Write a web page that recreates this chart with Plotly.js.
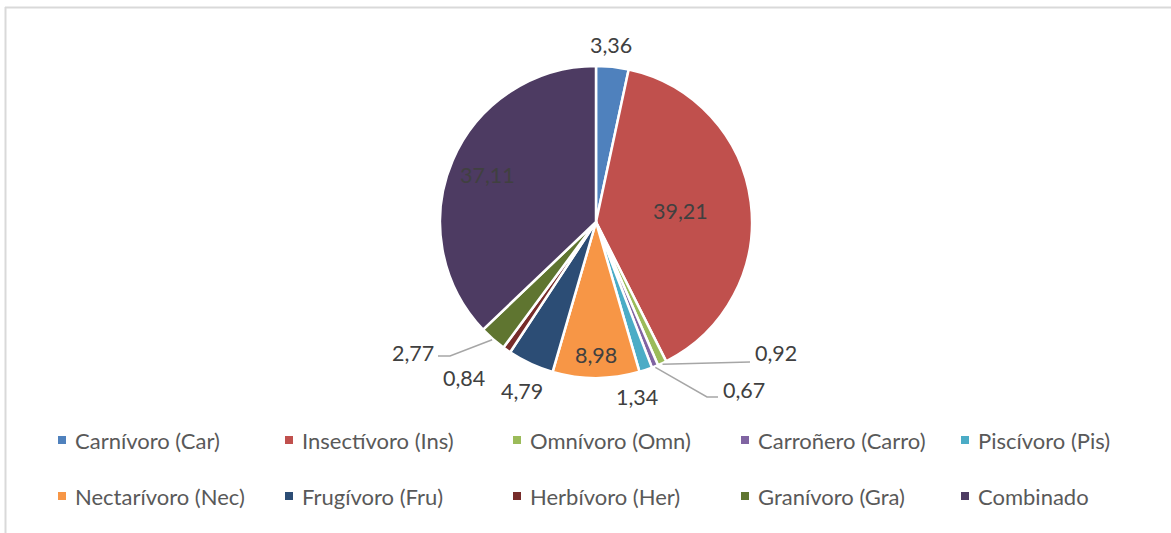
<!DOCTYPE html>
<html>
<head>
<meta charset="utf-8">
<script src="https://cdn.plot.ly/plotly-3.0.1.min.js"></script>
<style>html,body{margin:0;padding:0;background:#fff;}#chart{width:1171px;height:533px;}</style>
</head>
<body>
<div id="chart"></div>
<script>
// ---- data ----
const categories = ["Carnívoro (Car)", "Insectívoro (Ins)", "Omnívoro (Omn)", "Carroñero (Carro)", "Piscívoro (Pis)",
                    "Nectarívoro (Nec)", "Frugívoro (Fru)", "Herbívoro (Her)", "Granívoro (Gra)", "Combinado"];
const values = [3.36, 39.21, 0.92, 0.67, 1.34, 8.98, 4.79, 0.84, 2.77, 37.11];
const colors = ["#4F81BD", "#C0504D", "#9BBB59", "#8064A2", "#4BACC6",
                "#F79646", "#2C4D75", "#772C2A", "#5F7530", "#4D3B62"];

// ---- layout config (pixels) ----
const W = 1171, H = 533;
const CX = 596, CY = 222, R = 156;
// label placement: radius factor along slice mid-angle and pixel nudges
const labelR   = [1.14, 0.545, 1.0, 1.0, 1.15, 0.853, 1.183, 1.31, 1.0, 0.76];
const labelDX  = [-4, 0, 0, 0, -16, 0, 3, -15, 0, 0];
const labelDY  = [0, 0, 0, 0, 5, 0, 1.5, -12, 0, 0];
// labels with leader lines: [slice index, elbow x, elbow y, end x, end y, text x, text y, anchor]
const leaders = [
  [2, 750, 362, 750, 362, 753, 353, "left"],
  [3, 707, 397, 718, 397, 721, 390, "left"],
  [8, 450, 356, 438, 356, 436, 353, "right"]
];
const legendColX = [62, 289, 517, 745, 965];
const legendRowY = [440, 496];

const px = x => x / W;
const py = y => 1 - y / H;
const fmt = v => v.toFixed(2).replace('.', ',');

const total = values.reduce((a, b) => a + b, 0);
const mids = [];
let cum = 0;
values.forEach(v => { mids.push((cum + v / 2) / total * 2 * Math.PI); cum += v; });

const annotations = [];
const shapes = [];
const leaderIdx = leaders.map(l => l[0]);
const labelFont = {family: 'Lato', size: 21.5, color: '#404040'};

values.forEach((v, i) => {
  if (leaderIdx.includes(i)) return;
  const r = labelR[i] * R;
  const x = CX + r * Math.sin(mids[i]) + labelDX[i];
  const y = CY - r * Math.cos(mids[i]) + labelDY[i];
  annotations.push({xref: 'paper', yref: 'paper', x: px(x), y: py(y), text: fmt(v), showarrow: false,
    xanchor: 'center', yanchor: 'middle', font: labelFont});
});

leaders.forEach(l => {
  const i = l[0];
  const sx = CX + (R + 1) * Math.sin(mids[i]);
  const sy = CY - (R + 1) * Math.cos(mids[i]);
  shapes.push({type: 'path', xref: 'paper', yref: 'paper',
    path: `M${px(sx)},${py(sy)} L${px(l[1])},${py(l[2])} L${px(l[3])},${py(l[4])}`,
    line: {color: '#A6A6A6', width: 1.5}});
  annotations.push({xref: 'paper', yref: 'paper', x: px(l[5]), y: py(l[6]), text: fmt(values[i]), showarrow: false,
    xanchor: l[7], yanchor: 'middle', font: labelFont});
});

// legend
categories.forEach((c, i) => {
  const col = i % 5, row = Math.floor(i / 5);
  const x = legendColX[col], y = legendRowY[row];
  shapes.push({type: 'rect', xref: 'paper', yref: 'paper', x0: px(x - 4), x1: px(x + 4), y0: py(y - 4), y1: py(y + 4),
    fillcolor: colors[i], line: {width: 0}});
  annotations.push({xref: 'paper', yref: 'paper', x: px(x + 11), y: py(y), text: c, showarrow: false,
    xanchor: 'left', yanchor: 'middle', font: {family: 'Lato', size: 22, color: '#595959'}});
});

// frame
shapes.push({type: 'line', xref: 'paper', yref: 'paper', x0: px(5), x1: px(W + 5), y0: py(7.5), y1: py(7.5), line: {color: '#D9D9D9', width: 2}});
shapes.push({type: 'line', xref: 'paper', yref: 'paper', x0: px(5.5), x1: px(5.5), y0: py(7), y1: py(H + 5), line: {color: '#D9D9D9', width: 2}});

const trace = {
  type: 'pie',
  labels: categories,
  values: values,
  sort: false,
  direction: 'clockwise',
  rotation: 0,
  textinfo: 'none',
  showlegend: false,
  marker: {colors: colors, line: {color: '#FFFFFF', width: 2.5}},
  domain: {x: [px(CX - R), px(CX + R)], y: [py(CY + R), py(CY - R)]},
  hovertemplate: '%{label}: %{value}<extra></extra>'
};

const layout = {
  width: W, height: H,
  margin: {l: 0, r: 0, t: 0, b: 0},
  paper_bgcolor: '#FFFFFF',
  showlegend: false,
  annotations: annotations,
  shapes: shapes
};

Plotly.newPlot('chart', [trace], layout, {displayModeBar: false, staticPlot: true});
</script>
</body>
</html>
